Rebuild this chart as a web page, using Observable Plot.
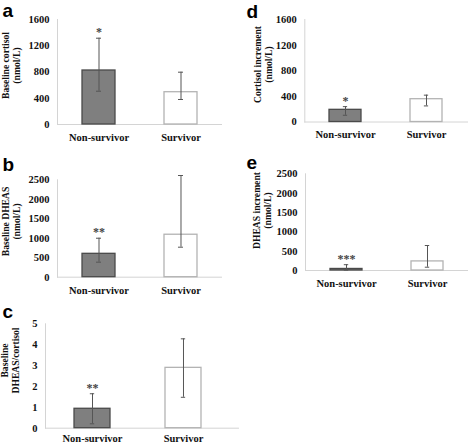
<!DOCTYPE html>
<html>
<head>
<meta charset="utf-8">
<script src="https://cdn.jsdelivr.net/npm/d3@7"></script>
<script src="https://cdn.jsdelivr.net/npm/@observablehq/plot@0.6"></script>
<style>
  html, body { margin: 0; padding: 0; background: #fff; }
  #root { position: relative; width: 472px; height: 444px; overflow: hidden; background: #fff; }
  #root svg { position: absolute; overflow: visible; background: transparent !important; }
</style>
</head>
<body>
<div id="root"></div>
<script>
// ---------- data ----------
const categories = ["Non-survivor", "Survivor"];

// a: Baseline cortisol (nmol/L)
const cortisolMean = [823, 492];
const cortisolLow  = [507, 381];
const cortisolHigh = [1315, 797];
const cortisolStars = ["*", ""];

// b: Baseline DHEAS (nmol/L)
const dheasMean = [600, 1090];
const dheasLow  = [385, 770];
const dheasHigh = [1000, 2610];
const dheasStars = ["**", ""];

// c: Baseline DHEAS/cortisol
const ratioMean = [0.93, 2.89];
const ratioLow  = [0.21, 1.48];
const ratioHigh = [1.65, 4.28];
const ratioStars = ["**", ""];

// d: Cortisol increment (nmol/L)
const cortIncMean = [190, 356];
const cortIncLow  = [105, 251];
const cortIncHigh = [240, 419];
const cortIncStars = ["*", ""];

// e: DHEAS increment (nmol/L)
const dheasIncMean = [40, 235];
const dheasIncLow  = [10, 85];
const dheasIncHigh = [150, 646];
const dheasIncStars = ["***", ""];

const ticksCortisol = [0, 400, 800, 1200, 1600];
const ticksDheas = [0, 500, 1000, 1500, 2000, 2500];
const ticksRatio = [0, 1, 2, 3, 4, 5];

// ---------- drawing ----------
const serif = "'Liberation Serif', 'Times New Roman', serif";
const sans = "'Liberation Sans', Arial, sans-serif";
const root = document.getElementById("root");

function panel(p) {
  const rows = categories.map((c, i) => ({cat: c, mean: p.mean[i], lo: p.low[i], hi: p.high[i], star: p.stars[i]}));
  const W = p.W, H = p.yZero - p.T + 30;
  const mL = p.x0 - p.L, mR = p.L + W - p.x1, mT = p.yTop - p.T, mB = H - (p.yZero - p.T);
  const xOpts = {domain: categories, paddingInner: 0.6, paddingOuter: 0.3};
  if (p.xRange) xOpts.range = p.xRange.map(v => v - p.L);
  const tmp = d3.scaleBand().domain(categories).range(p.xRange ? p.xRange : [p.x0, p.x1]).paddingInner(0.6).paddingOuter(0.3);
  const capInset = (tmp.bandwidth() - 5) / 2;
  const fs = 19;
  const chart = Plot.plot({
    width: W, height: H,
    marginLeft: mL, marginRight: mR, marginTop: mT, marginBottom: mB,
    style: {background: "transparent", overflow: "visible"},
    x: xOpts,
    y: {domain: p.domain},
    marks: [
      Plot.ruleY([0], {stroke: "#d4d4d4", strokeWidth: 1}),
      Plot.frame({anchor: "left", stroke: "#d4d4d4", strokeWidth: 1}),
      Plot.barY(rows, {x: "cat", y: "mean",
        fill: d => d.cat === categories[0] ? "#7f7f7f" : "#ffffff",
        stroke: d => d.cat === categories[0] ? "#4a4a4a" : "#b3b3b3",
        strokeWidth: 1.3}),
      Plot.ruleX(rows, {x: "cat", y1: "lo", y2: "hi", stroke: "#555", strokeWidth: 1}),
      Plot.tickY(rows, {x: "cat", y: "lo", stroke: "#555", strokeWidth: 1, insetLeft: capInset, insetRight: capInset}),
      Plot.tickY(rows, {x: "cat", y: "hi", stroke: "#555", strokeWidth: 1, insetLeft: capInset, insetRight: capInset}),
      Plot.text(rows, {x: "cat", y: "hi", text: "star", lineAnchor: "bottom", dy: -2,
        fontFamily: serif, fontWeight: "bold", fontSize: 12, fill: "#444"}),
      Plot.axisY({ticks: p.ticks, tickFormat: d3.format("d"), tickSize: 0, tickPadding: 8, label: null,
        fontFamily: serif, fontWeight: "bold", fontSize: 10.5, fill: "#111"}),
      Plot.axisX({tickSize: 0, tickPadding: p.xPad ?? 9, label: null,
        fontFamily: serif, fontWeight: "bold", fontSize: 10.5, fill: "#111"}),
      Plot.text([p.ylabel], {frameAnchor: "left", rotate: -90, lineAnchor: "middle", textAnchor: "middle",
        lineHeight: 1.15,
        dx: p.labelX - p.x0, dy: p.labelY - (p.yTop + p.yZero) / 2,
        fontFamily: serif, fontWeight: "bold", fontSize: 9.6, fill: "#111"}),
      Plot.text([p.letter], {frameAnchor: "top-left", textAnchor: "start", lineAnchor: "middle",
        dx: p.letterX - p.x0, dy: (p.letterBase - 0.32 * fs) - p.yTop,
        fontFamily: sans, fontWeight: "bold", fontSize: fs, fill: "#000"})
    ]
  });
  chart.style.left = p.L + "px";
  chart.style.top = p.T + "px";
  root.appendChild(chart);
}

panel({letter: "a", letterX: 2, letterBase: 16, L: 0, T: 0, W: 236, x0: 57, x1: 222, yTop: 19, yZero: 124,
  domain: [0, 1600], ticks: ticksCortisol, mean: cortisolMean, low: cortisolLow, high: cortisolHigh, stars: cortisolStars,
  ylabel: "Baseline cortisol\n(nmol/L)", labelX: 10, labelY: 65});

panel({letter: "d", letterX: 246, letterBase: 17, L: 236, T: 0, W: 236, x0: 304.3, x1: 468, yTop: 19, yZero: 121.5,
  domain: [0, 1600], ticks: ticksCortisol, mean: cortIncMean, low: cortIncLow, high: cortIncHigh, stars: cortIncStars,
  ylabel: "Cortisol increment\n(nmol/L)", labelX: 262, labelY: 64});

panel({letter: "b", letterX: 2, letterBase: 170, L: 0, T: 145, W: 236, x0: 57, x1: 222, yTop: 179.3, yZero: 276.7,
  domain: [0, 2500], ticks: ticksDheas, mean: dheasMean, low: dheasLow, high: dheasHigh, stars: dheasStars,
  ylabel: "Baseline DHEAS\n(nmol/L)", labelX: 10.5, labelY: 221});

panel({letter: "e", letterX: 246, letterBase: 168, L: 236, T: 145, W: 236, x0: 305, x1: 468, yTop: 173.3, yZero: 270,
  domain: [0, 2500], ticks: ticksDheas, mean: dheasIncMean, low: dheasIncLow, high: dheasIncHigh, stars: dheasIncStars,
  ylabel: "DHEAS increment\n(nmol/L)", labelX: 261, labelY: 210});

panel({letter: "c", letterX: 2, letterBase: 317, L: 0, T: 295, W: 250, x0: 45, x1: 239, yTop: 323.3, yZero: 427.7,
  xRange: [45.8, 229.2], xPad: 6,
  domain: [0, 5], ticks: ticksRatio, mean: ratioMean, low: ratioLow, high: ratioHigh, stars: ratioStars,
  ylabel: "Baseline\nDHEAS/cortisol", labelX: 9.5, labelY: 360});
</script>
</body>
</html>
